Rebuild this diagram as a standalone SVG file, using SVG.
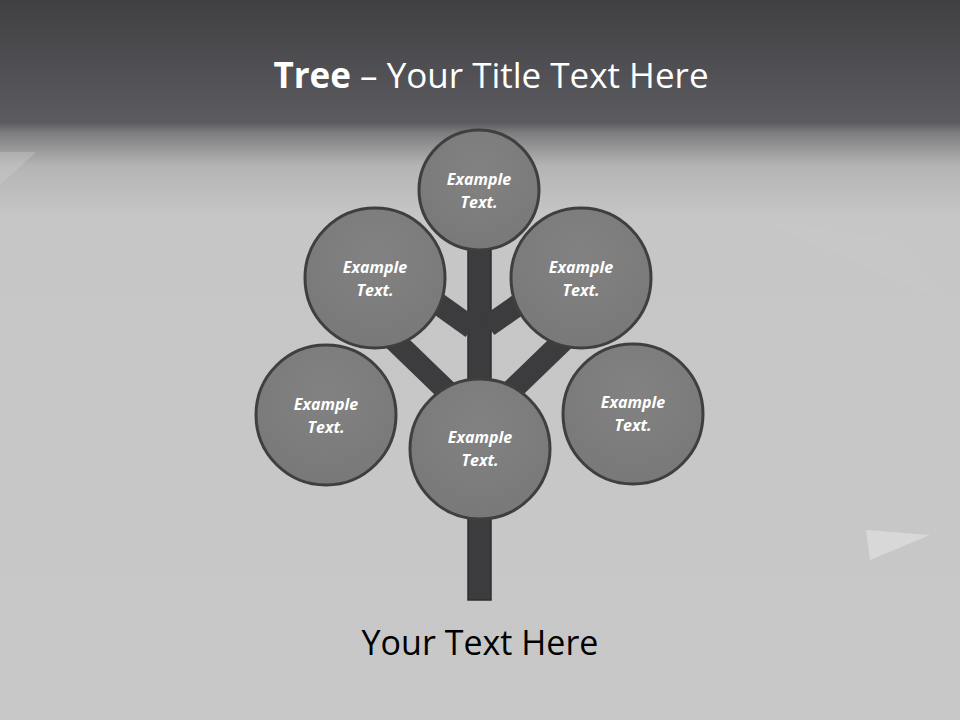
<svg xmlns="http://www.w3.org/2000/svg" width="960" height="720" viewBox="0 0 960 720">
<defs>
<linearGradient id="bg" x1="0" y1="0" x2="0" y2="1">
<stop offset="0" stop-color="#404043"/>
<stop offset="0.17" stop-color="#5c5b60"/>
<stop offset="0.185" stop-color="#7e7e80"/>
<stop offset="0.23" stop-color="#b4b4b5"/>
<stop offset="0.3" stop-color="#c6c6c6"/>
<stop offset="1" stop-color="#c8c8c8"/>
</linearGradient>
<radialGradient id="nodeFill" cx="0.5" cy="0.35" r="0.7">
<stop offset="0" stop-color="#828282"/>
<stop offset="1" stop-color="#787878"/>
</radialGradient>
</defs>
<style>
.node{fill:url(#nodeFill);stroke:#3f3f3f;stroke-width:3}
.branch{stroke:#3c3c3e;stroke-width:22;fill:none}
.lbl{font-family:"Open Sans","Noto Sans","Liberation Sans",sans-serif;font-size:16px;font-weight:bold;font-style:italic;fill:#ffffff;text-anchor:middle}
</style>
<rect x="0" y="0" width="960" height="720" fill="url(#bg)"/>
<polygon points="0,152 36,152 0,185" fill="#cdcdcd" opacity="0.35"/>
<polygon points="866,530 930,535 870,560" fill="#dcdcdc" opacity="0.8"/>
<polygon points="760,220 940,300 900,240" fill="#cbcbcb" opacity="0.3"/>
<text x="491" y="88" text-anchor="middle" font-family="'Open Sans','Noto Sans','Liberation Sans',sans-serif" font-size="35" fill="#ffffff"><tspan font-weight="bold">Tree</tspan> – Your Title Text Here</text>
<g id="connectors">
<rect x="468" y="250" width="23" height="350" fill="#3c3c3e" stroke="#2e2e2e" stroke-width="1.5"/>
<line class="branch" x1="430" y1="298" x2="472" y2="328"/>
<line class="branch" x1="528" y1="298" x2="488" y2="326"/>
<line class="branch" x1="392" y1="338" x2="452" y2="396"/>
<line class="branch" x1="566" y1="338" x2="508" y2="394"/>
</g>
<g id="node-top"><circle class="node" cx="479" cy="190" r="60"/><text class="lbl" x="479" y="185">Example</text><text class="lbl" x="479" y="208">Text.</text></g>
<g id="node-upper-left"><circle class="node" cx="375" cy="278" r="70"/><text class="lbl" x="375" y="273">Example</text><text class="lbl" x="375" y="296">Text.</text></g>
<g id="node-upper-right"><circle class="node" cx="581" cy="278" r="70"/><text class="lbl" x="581" y="273">Example</text><text class="lbl" x="581" y="296">Text.</text></g>
<g id="node-lower-left"><circle class="node" cx="326" cy="415" r="70"/><text class="lbl" x="326" y="410">Example</text><text class="lbl" x="326" y="433">Text.</text></g>
<g id="node-lower-right"><circle class="node" cx="633" cy="414" r="70"/><text class="lbl" x="633" y="408">Example</text><text class="lbl" x="633" y="431">Text.</text></g>
<g id="node-center"><circle class="node" cx="480" cy="449" r="70"/><text class="lbl" x="480" y="443">Example</text><text class="lbl" x="480" y="466">Text.</text></g>
<text x="480" y="655" text-anchor="middle" font-family="'Open Sans','Noto Sans','Liberation Sans',sans-serif" font-size="34" fill="#000000">Your Text Here</text>
</svg>
